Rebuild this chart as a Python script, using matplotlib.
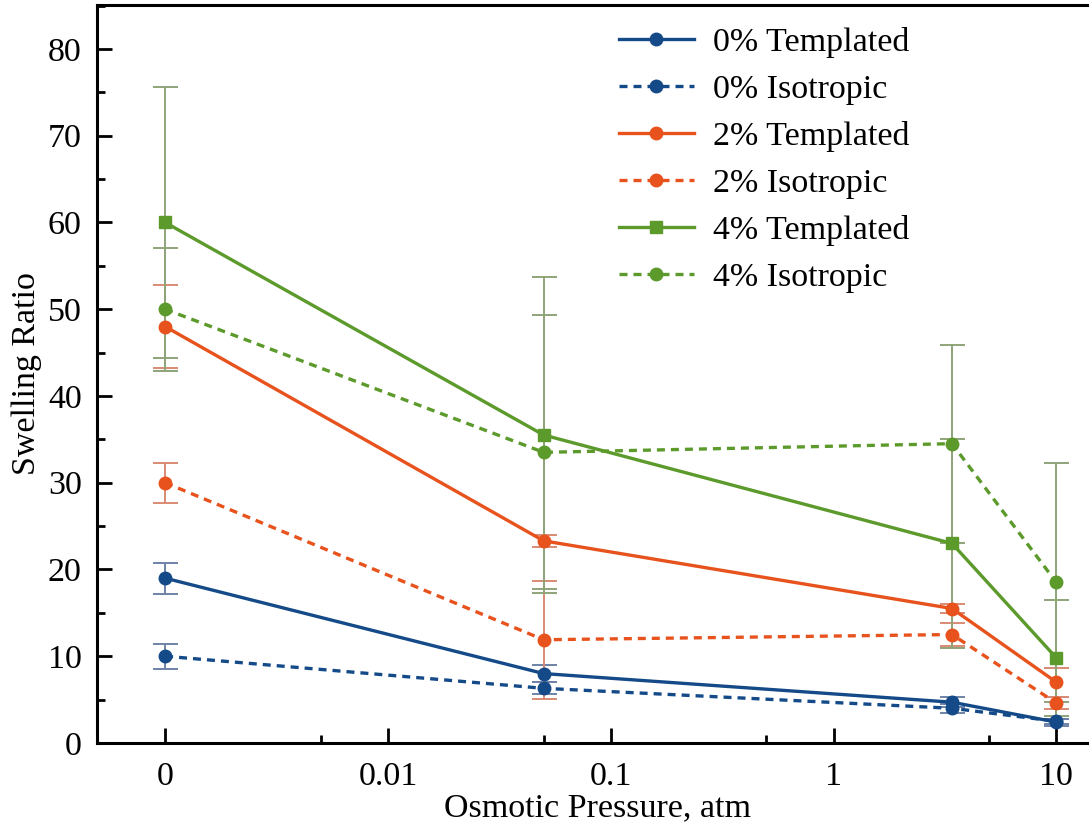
import matplotlib
matplotlib.use("Agg")
import matplotlib.pyplot as plt
from matplotlib.ticker import FixedLocator, FixedFormatter, MultipleLocator

plt.rcParams['font.family'] = ['Liberation Serif', 'DejaVu Serif']

# osmotic pressure (atm) for each measurement
pressure = [0, 0.05, 3.4, 10]

t0 = [19.0, 8.0, 4.7, 2.4]
t0_err = [1.8, 1.0, 0.6, 0.4]
i0 = [10.0, 6.3, 4.0, 2.5]
i0_err = [1.45, 0.7, 0.5, 0.3]
t2 = [48.0, 23.3, 15.5, 7.0]
t2_err = [4.8, 0.7, 0.5, 1.65]
i2 = [30.0, 11.9, 12.5, 4.6]
i2_err = [2.3, 6.8, 1.3, 0.7]
t4 = [60.0, 35.5, 23.0, 9.8]
t4_err = [15.6, 18.2, 12.0, 6.7]
i4 = [50.0, 33.5, 34.5, 18.5]
i4_err = [7.1, 15.8, 11.4, 13.8]

blue = '#144a88'
orange = '#e8521c'
green = '#5c9a2c'
blue_e = '#6f83a8'
orange_e = '#d98a74'
green_e = '#8fa47a'

dash = (0, (2.4, 1.8))
series = [
    ('0% Templated', t0, t0_err, blue, blue_e, '-', 'o'),
    ('0% Isotropic', i0, i0_err, blue, blue_e, dash, 'o'),
    ('2% Templated', t2, t2_err, orange, orange_e, '-', 'o'),
    ('2% Isotropic', i2, i2_err, orange, orange_e, dash, 'o'),
    ('4% Templated', t4, t4_err, green, green_e, '-', 's'),
    ('4% Isotropic', i4, i4_err, green, green_e, dash, 'o'),
]

fig = plt.figure(figsize=(10.89, 8.27), dpi=100)
ax = fig.add_axes([0.089, 0.1016, 0.92, 0.8924])

for label, y, err, c, ec, ls, mk in series:
    ax.errorbar(pressure, y, yerr=err, fmt='none', ecolor=ec, elinewidth=1.4,
                capsize=9, capthick=1.4, zorder=2)
    ax.plot(pressure, y, linestyle=ls, color=c, marker=mk, markersize=9,
            linewidth=2.4, label=label, zorder=3)

ax.set_xscale('symlog', linthresh=0.01, linscale=0.9)
ax.set_xlim(-0.00306, 15.5)
ax.set_ylim(0, 85.07)

ax.xaxis.set_major_locator(FixedLocator([0, 0.01, 0.1, 1, 10]))
ax.xaxis.set_major_formatter(FixedFormatter(['0', '0.01', '0.1', '1', '10']))
ax.xaxis.set_minor_locator(FixedLocator([0.007, 0.05, 0.5, 5]))
ax.yaxis.set_major_locator(MultipleLocator(10))
ax.yaxis.set_minor_locator(MultipleLocator(5))

ax.spines['right'].set_visible(False)
for side in ['left', 'bottom', 'top']:
    ax.spines[side].set_linewidth(2.2)

ax.tick_params(which='major', direction='in', length=11, width=2, labelsize=24.5, pad=11)
ax.tick_params(which='minor', direction='in', length=6, width=2)
ax.tick_params(axis='x', which='major', pad=13)

ax.set_xlabel('Osmotic Pressure, atm', fontsize=24.5, labelpad=1)
ax.set_ylabel('Swelling Ratio', fontsize=24.5, labelpad=4)

ax.legend(loc='upper left', bbox_to_anchor=(0.499, 1.0), frameon=False,
          fontsize=24.5, handlelength=2.2, labelspacing=0.47, handletextpad=0.55,
          borderaxespad=0.25)

fig.savefig('out.png', dpi=100)
